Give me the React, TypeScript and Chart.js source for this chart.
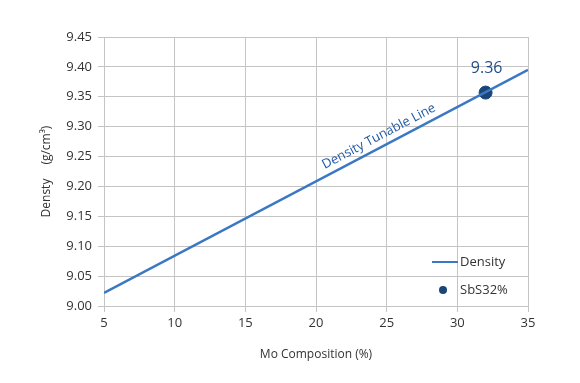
import React, { useEffect, useRef } from "react";
import { Chart, registerables } from "chart.js";

Chart.register(...registerables);

const lineX = [5, 35];
const lineY = [9.022, 9.395];
const pointX = [32];
const pointY = [9.357];
const pointLabel = "9.36";
const lineLabel = "Density Tunable Line";
const legendNames = ["Density", "SbS32%"];
const xTitle = "Mo Composition (%)";
const yTitle = "Densty\u2003\u2009(g/cm³)";

const LINE_COLOR = "#3b78c4";
const POINT_COLOR = "#1c4577";
const TEXT_COLOR = "#333333";
const GRID = "#c4c4c4";
const FONT = "'Open Sans', 'Noto Sans', sans-serif";

const annotations = {
  id: "annotations",
  afterDatasetsDraw(chart: any) {
    const { ctx, chartArea, scales } = chart;
    const xs = scales.x;
    const ys = scales.y;
    ctx.save();
    const px = xs.getPixelForValue(pointX[0]);
    const py = ys.getPixelForValue(pointY[0]);
    ctx.fillStyle = "#1f4e8c";
    ctx.font = `16px ${FONT}`;
    ctx.textAlign = "center";
    ctx.textBaseline = "bottom";
    ctx.fillText(pointLabel, px + 1, py - 16);

    const x0 = xs.getPixelForValue(lineX[0]);
    const y0 = ys.getPixelForValue(lineY[0]);
    const x1 = xs.getPixelForValue(lineX[1]);
    const y1 = ys.getPixelForValue(lineY[1]);
    const ang = Math.atan2(y1 - y0, x1 - x0);
    const lx = 24.8;
    const ly = lineY[0] + ((lx - lineX[0]) * (lineY[1] - lineY[0])) / (lineX[1] - lineX[0]);
    ctx.translate(xs.getPixelForValue(lx), ys.getPixelForValue(ly));
    ctx.rotate(ang);
    ctx.fillStyle = "#1f5aa6";
    ctx.font = `13px ${FONT}`;
    ctx.textAlign = "center";
    ctx.textBaseline = "bottom";
    ctx.fillText(lineLabel, 0, -4);
    ctx.restore();

    ctx.save();
    const r = chartArea.right;
    const b = chartArea.bottom;
    ctx.strokeStyle = LINE_COLOR;
    ctx.lineWidth = 2;
    ctx.beginPath();
    ctx.moveTo(r - 96, b - 44);
    ctx.lineTo(r - 70, b - 44);
    ctx.stroke();
    ctx.fillStyle = POINT_COLOR;
    ctx.beginPath();
    ctx.arc(r - 85, b - 16, 4, 0, Math.PI * 2);
    ctx.fill();
    ctx.fillStyle = TEXT_COLOR;
    ctx.font = `13px ${FONT}`;
    ctx.textAlign = "left";
    ctx.textBaseline = "middle";
    ctx.fillText(legendNames[0], r - 68, b - 44);
    ctx.fillText(legendNames[1], r - 68, b - 16);
    ctx.restore();
  },
};

export default function App() {
  const ref = useRef<HTMLCanvasElement>(null);
  useEffect(() => {
    document.body.style.margin = "0";
    const chart = new Chart(ref.current!, {
      type: "scatter",
      data: {
        datasets: [
          {
            label: legendNames[0],
            data: lineX.map((x, i) => ({ x, y: lineY[i] })),
            showLine: true,
            borderColor: LINE_COLOR,
            borderWidth: 2.5,
            pointRadius: 0,
          },
          {
            label: legendNames[1],
            data: pointX.map((x, i) => ({ x, y: pointY[i] })),
            backgroundColor: POINT_COLOR,
            borderColor: POINT_COLOR,
            pointRadius: 6.5,
          },
        ],
      },
      plugins: [annotations],
      options: {
        animation: false,
        responsive: false,
        layout: { padding: { top: 37, right: 52, left: 0, bottom: 0 } },
        plugins: { legend: { display: false }, tooltip: { enabled: false } },
        scales: {
          x: {
            type: "linear",
            min: 5,
            max: 35,
            afterFit: (s: any) => {
              s.height = 77;
            },
            ticks: {
              stepSize: 5,
              color: TEXT_COLOR,
              font: { family: FONT, size: 13 },
              padding: 3,
              maxRotation: 0,
            },
            grid: { color: GRID, tickLength: 6, lineWidth: 1 },
            border: { color: GRID },
            title: {
              display: true,
              text: xTitle,
              color: TEXT_COLOR,
              font: { family: FONT, size: 12 },
              padding: { top: 0, bottom: 21 },
            },
          },
          y: {
            type: "linear",
            min: 9.0,
            max: 9.45,
            afterFit: (s: any) => {
              s.width = 104;
            },
            ticks: {
              stepSize: 0.05,
              color: TEXT_COLOR,
              font: { family: FONT, size: 13 },
              padding: 6,
              callback: (v: any) => Number(v).toFixed(2),
            },
            grid: { color: GRID, tickLength: 6, lineWidth: 1 },
            border: { color: GRID },
            title: {
              display: true,
              text: yTitle,
              color: TEXT_COLOR,
              font: { family: FONT, size: 12 },
              padding: { top: 39, bottom: 0 },
            },
          },
        },
      },
    });
    return () => chart.destroy();
  }, []);
  return (
    <div style={{ position: "absolute", left: 0, top: 0, width: 580, height: 383, background: "#fff" }}>
      <canvas ref={ref} width={580} height={383} />
    </div>
  );
}
